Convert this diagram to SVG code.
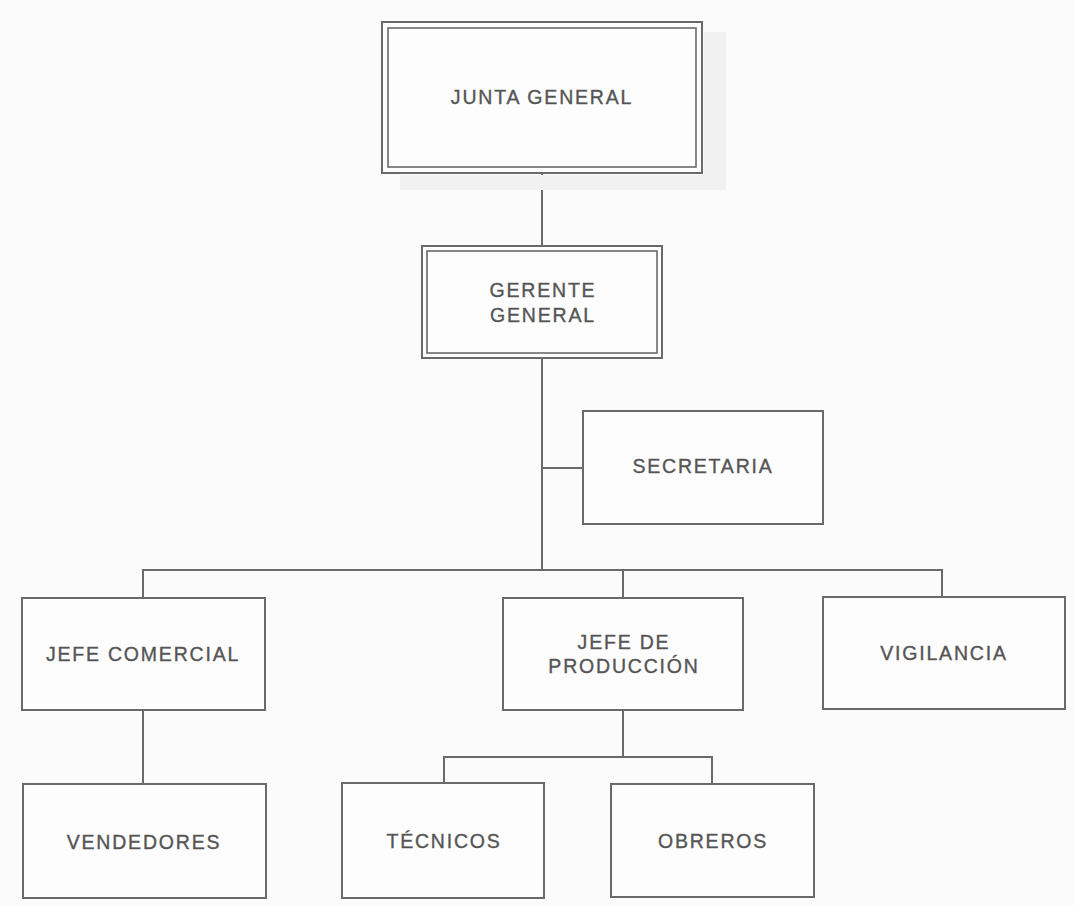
<svg xmlns="http://www.w3.org/2000/svg" width="1075" height="906" viewBox="0 0 1075 906">
<style>
.box{fill:#fdfdfd;stroke:#6a6a6a;stroke-width:2}
.in{fill:none;stroke:#6a6a6a;stroke-width:1.6}
.t{font-family:"Liberation Sans",Arial,sans-serif;font-size:19.5px;letter-spacing:1.8px;fill:#555;stroke:#555;stroke-width:0.35;text-anchor:middle}
.c{fill:none;stroke:#6a6a6a;stroke-width:2}
</style>
<rect width="1075" height="906" fill="#fbfbfb"/>
<g id="connectors">
<path class="c" d="M542 173V246"/>
<path class="c" d="M542 358V570"/>
<path class="c" d="M542 468H583"/>
<path class="c" d="M143 598V570H942V597"/>
<path class="c" d="M623 570V598"/>
<path class="c" d="M143 710V784"/>
<path class="c" d="M623 710V757"/>
<path class="c" d="M444 783V757H712V784"/>
</g>
<g id="junta">
<rect x="704" y="32" width="22" height="158" fill="#f1f1f1"/>
<rect x="400" y="175" width="326" height="15" fill="#f1f1f1"/>
<rect class="box" x="382" y="22" width="320" height="151"/>
<rect class="in" x="388" y="28" width="308" height="139"/>
<text class="t" x="542" y="104">JUNTA GENERAL</text>
</g>
<g id="gerente">
<rect class="box" x="422" y="246" width="240" height="112"/>
<rect class="in" x="427" y="251" width="230" height="102"/>
<text class="t" x="543" y="297">GERENTE</text>
<text class="t" x="543" y="322">GENERAL</text>
</g>
<g id="secretaria">
<rect class="box" x="583" y="411" width="240" height="113"/>
<text class="t" x="703" y="473">SECRETARIA</text>
</g>
<g id="jefe-comercial">
<rect class="box" x="22" y="598" width="243" height="112"/>
<text class="t" x="143" y="661">JEFE COMERCIAL</text>
</g>
<g id="jefe-produccion">
<rect class="box" x="503" y="598" width="240" height="112"/>
<text class="t" x="624" y="649">JEFE DE</text>
<text class="t" x="624" y="673">PRODUCCIÓN</text>
</g>
<g id="vigilancia">
<rect class="box" x="823" y="597" width="242" height="112"/>
<text class="t" x="944" y="660">VIGILANCIA</text>
</g>
<g id="vendedores">
<rect class="box" x="23" y="784" width="243" height="114"/>
<text class="t" x="144" y="849">VENDEDORES</text>
</g>
<g id="tecnicos">
<rect class="box" x="342" y="783" width="202" height="115"/>
<text class="t" x="444" y="848">TÉCNICOS</text>
</g>
<g id="obreros">
<rect class="box" x="611" y="784" width="203" height="113"/>
<text class="t" x="713" y="848">OBREROS</text>
</g>
</svg>
